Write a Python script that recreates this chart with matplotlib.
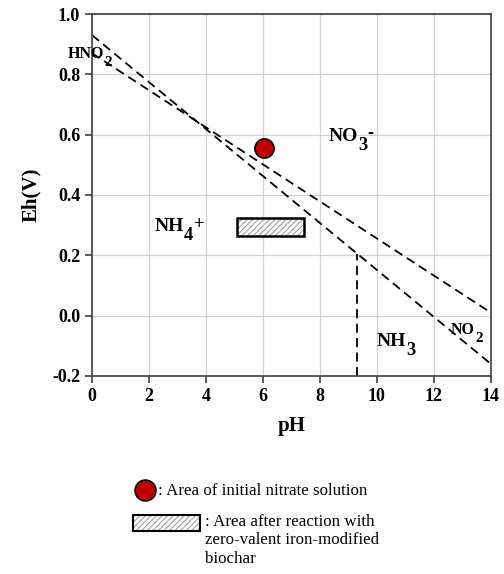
import matplotlib.pyplot as plt
from matplotlib.patches import Rectangle
from matplotlib.lines import Line2D

# boundary lines (pH, Eh)
line1_ph = [0, 14]
line1_eh = [0.93, -0.16]
line2_ph = [0, 14]
line2_eh = [0.87, 0.01]
vert_ph = [9.3, 9.3]
vert_eh = [-0.2, 0.205]

initial_ph = 6.05
initial_eh = 0.555
after_ph = [5.1, 7.45]
after_eh = [0.265, 0.325]

plt.rcParams['font.family'] = ['Liberation Serif', 'DejaVu Serif']
plt.rcParams['font.weight'] = 'bold'
plt.rcParams['hatch.color'] = '#a0a0a0'
plt.rcParams['hatch.linewidth'] = 0.8


def hatched_box(xy, w, h, transform=None, lw=1.8):
    kw = {} if transform is None else {'transform': transform}
    fill = Rectangle(xy, w, h, facecolor='white', edgecolor='#a0a0a0', lw=0,
                     hatch='//////', zorder=4, **kw)
    edge = Rectangle(xy, w, h, facecolor='none', edgecolor='black', lw=lw,
                     zorder=4.5, **kw)
    return fill, edge


def species(ax, x, y, base, sub, sup=None, size=14):
    t = ax.text(x, y, base, fontsize=size, ha='left', va='baseline', clip_on=False)
    s = ax.annotate(sub, xy=(1, 0), xycoords=t, xytext=(0, -size * 0.27),
                    textcoords='offset points', fontsize=size * 0.95, va='baseline')
    if sup:
        ax.annotate(sup, xy=(1, 0), xycoords=s, xytext=(0.5, size * 0.8),
                    textcoords='offset points', fontsize=size * 0.95, va='baseline')


fig = plt.figure(figsize=(5.04, 5.74), dpi=100)
ax = fig.add_axes([0.1825, 0.345, 0.7915, 0.6306])

dash = (0, (5, 3))
ax.plot(line1_ph, line1_eh, color='black', lw=1.3, linestyle=dash)
ax.plot(line2_ph, line2_eh, color='black', lw=1.3, linestyle=dash)
ax.plot(vert_ph, vert_eh, color='black', lw=1.3, linestyle=dash)

ax.scatter([initial_ph], [initial_eh], s=190, color='#c00000', edgecolor='black',
           linewidth=1.2, zorder=5)
for p in hatched_box((after_ph[0], after_eh[0]), after_ph[1] - after_ph[0],
                     after_eh[1] - after_eh[0]):
    ax.add_patch(p)

ax.set_xlim(0, 14)
ax.set_ylim(-0.2, 1.0)
ax.set_xticks(range(0, 15, 2))
ax.set_yticks([-0.2, 0.0, 0.2, 0.4, 0.6, 0.8, 1.0])
ax.set_yticklabels(['-0.2', '0.0', '0.2', '0.4', '0.6', '0.8', '1.0'])
ax.grid(True, color='#d0d0d0', lw=0.9)
ax.set_axisbelow(True)
for s in ax.spines.values():
    s.set_color('#404040')
    s.set_linewidth(1.2)
ax.tick_params(labelsize=13, width=1.2, length=5, color='#404040')
ax.set_xlabel('pH', fontsize=15, fontweight='bold', labelpad=8)
ax.set_ylabel('Eh(V)', fontsize=15, fontweight='bold', labelpad=8)

species(ax, -0.85, 0.855, 'HNO', '2', size=11.5)
species(ax, 8.3, 0.58, 'NO', '3', '-', size=14)
species(ax, 2.2, 0.28, 'NH', '4', '+', size=14)
species(ax, 10.0, -0.10, 'NH', '3', size=14)
species(ax, 12.6, -0.06, 'NO', '2', size=11.5)

# legend below the plot
fig.add_artist(Line2D([145 / 504], [1 - 490 / 574], marker='o', markersize=15,
                      markerfacecolor='#c00000', markeredgecolor='black',
                      markeredgewidth=1.2, linestyle='none', transform=fig.transFigure))
fig.text(158 / 504, 1 - 491 / 574, ': Area of initial nitrate solution', fontsize=12.2,
         fontweight='normal', va='center')
for p in hatched_box((133 / 504, 1 - 531 / 574), 67 / 504, 16 / 574,
                     transform=fig.transFigure, lw=1.5):
    fig.add_artist(p)
fig.text(205 / 504, 1 - 514 / 574, ': Area after reaction with\nzero-valent iron-modified\nbiochar',
         fontsize=12.2, fontweight='normal', va='top', linespacing=1.2)

fig.savefig('out.png', dpi=100)
